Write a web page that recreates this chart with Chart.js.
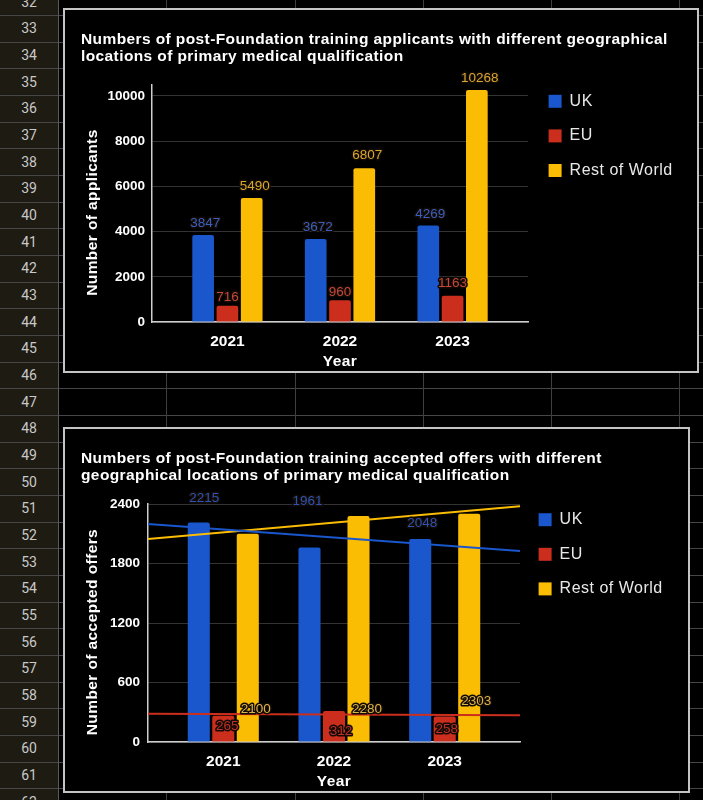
<!DOCTYPE html>
<html><head><meta charset="utf-8">
<script src="https://cdn.jsdelivr.net/npm/chart.js@4.4.1/dist/chart.umd.min.js"></script>
<style>
html,body{margin:0;padding:0;background:#000;}
body{width:703px;height:800px;position:relative;overflow:hidden;font-family:"Liberation Sans",Arial,sans-serif;}
#hdr{position:absolute;left:0;top:0;width:58px;height:800px;background:#1e1b12;}
.rn{position:absolute;left:0;width:58px;height:20px;line-height:20px;text-align:center;color:#c9c9c9;font-size:14px;font-family:Roboto,"Liberation Sans",sans-serif;}
.hl{position:absolute;left:0;width:703px;height:1px;background:#474747;}
.vl{position:absolute;top:0;width:1px;height:800px;background:#3e3e3e;}
.box{position:absolute;border:2px solid #c4c4c4;background:#000;box-sizing:border-box;}
canvas{display:block;}
</style></head><body>
<div id="hdr"></div>
<div id="grid"></div>
<div class="box" style="left:63px;top:8px;width:636px;height:365px;"><canvas id="c1" width="632" height="361"></canvas></div>
<div class="box" style="left:63px;top:427px;width:627px;height:366px;"><canvas id="c2" width="623" height="362"></canvas></div>
<script>
// ---- data ----
const years = ['2021', '2022', '2023'];
const seriesNames = ['UK', 'EU', 'Rest of World'];
const appUK = [3847, 3672, 4269];
const appEU = [716, 960, 1163];
const appRoW = [5490, 6807, 10268];
const appTicks = [0, 2000, 4000, 6000, 8000, 10000];
const offUK = [2215, 1961, 2048];
const offEU = [265, 312, 258];
const offRoW = [2100, 2280, 2303];
const offTicks = [0, 600, 1200, 1800, 2400];
// trendline end values (left edge, right edge)
const offTrendUK = [2200, 1926];
const offTrendEU = [286, 270];
const offTrendRoW = [2047, 2378];
const title1 = ['Numbers of post-Foundation training applicants with different geographical', 'locations of primary medical qualification'];
const title2 = ['Numbers of post-Foundation training accepted offers with different', 'geographical locations of primary medical qualification'];

// ---- spreadsheet background ----
(function(){
  const hdr = document.getElementById('hdr');
  const grid = document.getElementById('grid');
  const rowH = 26.667, first = 15;
  for (let k = 0; k <= 30; k++) {
    const y = first + rowH * k;
    const l = document.createElement('div'); l.className = 'hl'; l.style.top = Math.round(y) + 'px'; grid.appendChild(l);
  }
  for (let k = 0; k <= 30; k++) {
    const c = first + rowH * (k - 1) + rowH / 2;
    const d = document.createElement('div'); d.className = 'rn'; d.style.top = (c - 10) + 'px'; d.textContent = 32 + k; hdr.appendChild(d);
  }
  [58, 166, 295, 423, 551, 679].forEach((x, i) => {
    const v = document.createElement('div'); v.className = 'vl'; v.style.left = x + 'px';
    if (i === 0) v.style.background = '#5a5a5a';
    grid.appendChild(v);
  });
})();

// ---- charts ----
const F = '"Liberation Sans", Arial, sans-serif';
const C = { uk: '#1a56cc', eu: '#cc2e1e', row: '#fbbc04' };
const pts = arr => years.map((y, i) => ({ x: Number(y), y: arr[i] }));

const valueLabels = {
  id: 'valueLabels',
  afterDraw(chart, args, o) {
    const ctx = chart.ctx;
    ctx.save();
    ctx.font = o.font; ctx.textAlign = 'center'; ctx.textBaseline = 'middle'; ctx.lineJoin = 'round';
    chart.data.datasets.forEach((ds, i) => {
      if (ds.type === 'line') return;
      const meta = chart.getDatasetMeta(i);
      meta.data.forEach((bar, j) => {
        const txt = String(ds.data[j].y);
        const x = bar.x + o.dx[i][j], y = bar.y + o.dy[i][j];
        ctx.lineWidth = 3; ctx.strokeStyle = '#120b06'; ctx.strokeText(txt, x, y);
        ctx.fillStyle = o.colors[i]; ctx.fillText(txt, x, y);
      });
    });
    ctx.restore();
  }
};
function spaced(obj, fn, sp, dx, dy) {
  const orig = obj[fn];
  obj[fn] = function () {
    const ctx = this.ctx;
    ctx.save(); ctx.letterSpacing = sp; ctx.translate(dx || 0, dy || 0);
    const r = orig.apply(this, arguments);
    ctx.restore();
    return r;
  };
}
const textTweaks = {
  id: 'textTweaks',
  beforeLayout(chart, args, o) {
    const lg = chart.legend;
    if (lg && !lg._patched) {
      const fit = lg.fit;
      lg.fit = function () { fit.call(this); this.width = o.legendWidth; };
      spaced(lg, 'draw', '0.5px', o.legendDx, 0);
      lg._patched = true;
    }
    const tb = chart.titleBlock;
    if (tb && !tb._patched) { spaced(tb, 'draw', '0.4px'); tb._patched = true; }
  },
  beforeDraw(chart, args, o) {
    Object.values(chart.scales).forEach(s => {
      if (!s._patched) { spaced(s, 'drawTitle', '0.4px', 0, s.axis === 'y' ? o.yTitleDy : 0); s._patched = true; }
    });
  }
};

function makeChart(id, cfg) {
  const barDs = (label, arr, color) => ({ label, data: pts(arr), backgroundColor: color, borderRadius: 2, borderSkipped: 'bottom', categoryPercentage: cfg.cp, barPercentage: cfg.bp, order: 2 });
  const datasets = [
    barDs(seriesNames[0], cfg.uk, C.uk),
    barDs(seriesNames[1], cfg.eu, C.eu),
    barDs(seriesNames[2], cfg.row, C.row)
  ];
  (cfg.trends || []).forEach((t, i) => {
    datasets.push({ type: 'line', label: seriesNames[i] + ' trend', data: [{ x: cfg.xmin, y: t[0] }, { x: cfg.xmax, y: t[1] }], borderColor: [C.uk, C.eu, C.row][i], borderWidth: 2, pointRadius: 0, order: 1 });
  });
  return new Chart(document.getElementById(id), {
    type: 'bar',
    data: { datasets },
    options: {
      responsive: false, animation: false, devicePixelRatio: 1,
      layout: { padding: { left: 16, right: 0, top: 0, bottom: 0 } },
      plugins: {
        tooltip: { enabled: false },
        title: { display: true, align: 'start', text: cfg.title, color: '#ffffff', font: { family: F, size: 15.5, weight: 'bold', lineHeight: 1.1 }, padding: { top: cfg.tTop, bottom: cfg.tBot } },
        legend: {
          position: 'right', align: 'start', fullSize: true,
          title: { display: true, text: '', font: { size: 10, lineHeight: 1 }, padding: { top: cfg.legTop, bottom: 0 } },
          labels: { color: '#e8e8e8', font: { family: F, size: 16 }, boxWidth: 13, boxHeight: 13, padding: 18.6, filter: item => item.datasetIndex < 3 }
        },
        textTweaks: { legendWidth: cfg.legW, legendDx: cfg.legDx, yTitleDy: 9 },
        valueLabels: { font: '13.5px ' + F, colors: cfg.labelColors, dx: cfg.dx, dy: cfg.dy }
      },
      scales: {
        x: {
          type: 'linear', min: cfg.xmin, max: cfg.xmax, offset: false,
          grid: { display: false, drawTicks: false },
          border: { display: true, color: '#cfcfcf', width: 1.5 },
          afterBuildTicks: s => { s.ticks = years.map(y => ({ value: Number(y) })); },
          ticks: { color: '#ffffff', font: { family: F, size: 15.5, weight: 'bold' }, padding: 10.5, autoSkip: false, maxRotation: 0, callback: v => String(v) },
          title: { display: true, text: 'Year', color: '#ffffff', font: { family: F, size: 15.5, weight: 'bold' }, padding: { top: 0, bottom: 0 } },
          afterFit: s => { s.height = cfg.xH; }
        },
        y: {
          min: 0, max: cfg.ymax,
          afterBuildTicks: s => { s.ticks = cfg.ticks.map(v => ({ value: v })); },
          grid: { color: '#333333', drawTicks: false, lineWidth: 1 },
          border: { display: true, color: '#cfcfcf', width: 1.5 },
          ticks: { color: '#ffffff', font: { family: F, size: 13.5, weight: 'bold' }, padding: cfg.yPad, callback: v => String(v) },
          title: { display: true, text: cfg.yTitle, color: '#ffffff', font: { family: F, size: 15.5, weight: 'bold' }, padding: { top: 2, bottom: 0 } },
          afterFit: s => { s.width = cfg.yW; }
        }
      }
    },
    plugins: [valueLabels, textTweaks]
  });
}

makeChart('c1', {
  title: title1, yTitle: 'Number of applicants',
  uk: appUK, eu: appEU, row: appRoW, ticks: appTicks, ymax: 10480,
  xmin: 2020.33, xmax: 2023.67, cp: 0.647, bp: 0.893,
  tTop: 21, tBot: 20, legTop: 54.7, legW: 169, legDx: 2, xH: 49, yW: 71, yPad: 7,
  labelColors: ['#3b5fc0', '#c4473a', '#d9a62e'],
  dx: [[2, 2, 2], [0, 0, 0], [3, 3, 3]],
  dy: [[-11.5, -11.5, -11.5], [-9, -8, -12.5], [-11.5, -12.5, -11.5]]
});

makeChart('c2', {
  title: title2, yTitle: 'Number of accepted offers',
  uk: offUK, eu: offEU, row: offRoW, ticks: offTicks, ymax: 2400,
  trends: [offTrendUK, offTrendEU, offTrendRoW],
  xmin: 2020.32, xmax: 2023.68, cp: 0.664, bp: 0.9,
  tTop: 21.5, tBot: 19.5, legTop: 54.1, legW: 168, legDx: 0, xH: 49, yW: 67, yPad: 8,
  labelColors: ['#2f52b0', '#c0302a', '#dcb24a'],
  dx: [[5.5, -2, 2], [4, 7, 2], [8, 8.5, 7]],
  dy: [[-24, -46.5, -16], [10.4, 19.8, 12.7], [175.4, 193, 188]]
});
</script>
</body></html>
